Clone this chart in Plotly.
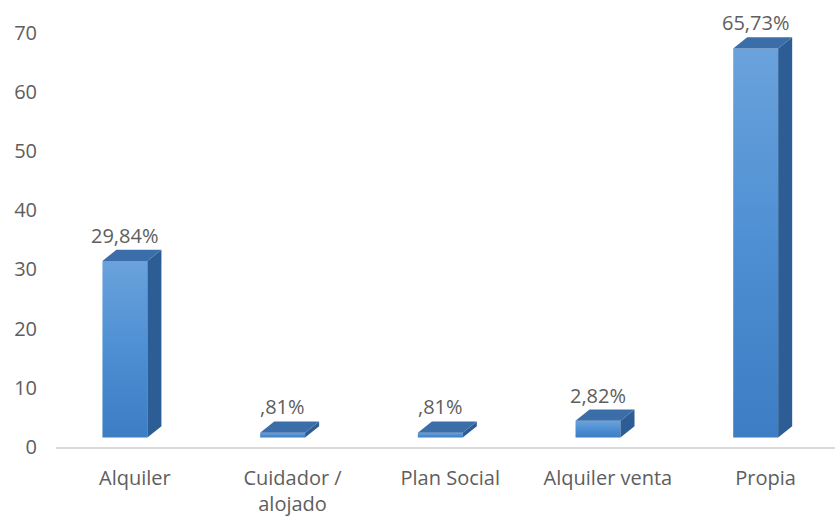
import plotly.graph_objects as go

# Tenure of housing (percent of respondents)
categories = ["Alquiler", "Cuidador /<br>alojado", "Plan Social", "Alquiler venta", "Propia"]
values = [29.84, 0.81, 0.81, 2.82, 65.73]
value_labels = ["29,84%", ",81%", ",81%", "2,82%", "65,73%"]
y_ticks = [0, 10, 20, 30, 40, 50, 60, 70]

# pseudo-3D column geometry (axis units)
FLOOR = 1.6        # columns stand slightly above the axis line
WIDTH = 0.285      # width of the front face
SHIFT = -0.063     # front face offset from the category centre
DEPTH_X = 0.089    # horizontal extent of the side face
DEPTH_Y = 1.9      # vertical extent of the top face

TEXT = "#5e5e5e"
FONT = "Open Sans"

fig = go.Figure()

for i, v in enumerate(values):
    x0 = i + SHIFT - WIDTH / 2
    x1 = i + SHIFT + WIDTH / 2
    y0 = FLOOR
    y1 = FLOOR + v
    # front face
    fig.add_trace(go.Scatter(
        x=[x0, x1, x1, x0, x0], y=[y0, y0, y1, y1, y0],
        mode="lines", line=dict(width=0), fill="toself",
        fillgradient=dict(type="vertical",
                          colorscale=[[0, "#3c7dc3"], [0.5, "#4e8fd3"], [1, "#6aa2dc"]]),
        hoverinfo="skip", showlegend=False))
    # side face
    fig.add_trace(go.Scatter(
        x=[x1, x1 + DEPTH_X, x1 + DEPTH_X, x1, x1],
        y=[y0, y0 + DEPTH_Y, y1 + DEPTH_Y, y1, y0],
        mode="lines", line=dict(width=0), fill="toself",
        fillcolor="#2d5d95", hoverinfo="skip", showlegend=False))
    # top face
    fig.add_trace(go.Scatter(
        x=[x0, x1, x1 + DEPTH_X, x0 + DEPTH_X, x0],
        y=[y1, y1, y1 + DEPTH_Y, y1 + DEPTH_Y, y1],
        mode="lines", line=dict(width=0), fill="toself",
        fillcolor="#3b6ea9", hoverinfo="skip", showlegend=False))
    fig.add_annotation(
        x=i + SHIFT, y=y1 + DEPTH_Y, text=value_labels[i],
        showarrow=False, yanchor="bottom", yshift=-1,
        font=dict(family=FONT, size=20, color=TEXT))

fig.update_layout(
    width=835, height=519,
    margin=dict(l=56, r=0, t=15, b=72),
    paper_bgcolor="white", plot_bgcolor="white",
    xaxis=dict(range=[-0.5, 4.44], tickvals=list(range(len(categories))),
               ticktext=categories, showgrid=False, zeroline=False,
               showline=True, linecolor="#d9d9d9", linewidth=1.5,
               ticks="", ticklabelstandoff=12,
               tickfont=dict(family=FONT, size=20, color=TEXT)),
    yaxis=dict(range=[0, 73], tickvals=y_ticks, showgrid=False, zeroline=False,
               showline=False, ticks="", ticklabelstandoff=18,
               tickfont=dict(family=FONT, size=20, color=TEXT)),
)

fig.write_html("out.html")
